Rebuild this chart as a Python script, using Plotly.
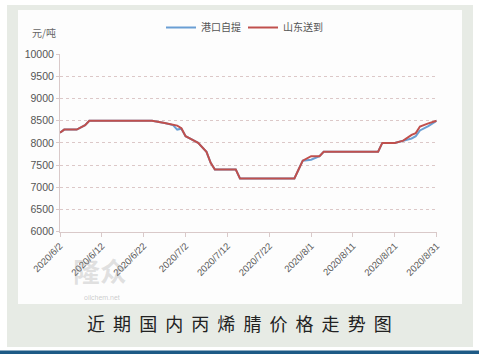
import plotly.graph_objects as go

W, H = 479, 354

dates = ['2020-06-02', '2020-06-03', '2020-06-06', '2020-06-08', '2020-06-09',
         '2020-06-24', '2020-06-27', '2020-06-29', '2020-06-30', '2020-07-01',
         '2020-07-02', '2020-07-03', '2020-07-05', '2020-07-07', '2020-07-08',
         '2020-07-09', '2020-07-14', '2020-07-15', '2020-07-28', '2020-07-29',
         '2020-07-30', '2020-08-01', '2020-08-03', '2020-08-04', '2020-08-17',
         '2020-08-18', '2020-08-21', '2020-08-23', '2020-08-25', '2020-08-26',
         '2020-08-27', '2020-08-29', '2020-08-31']

shandong = [8230, 8300, 8300, 8400, 8500,
            8500, 8450, 8400, 8390, 8330,
            8150, 8100, 8000, 7800, 7550,
            7400, 7400, 7200, 7200, 7400,
            7600, 7700, 7700, 7800, 7800,
            8000, 8000, 8050, 8180, 8220,
            8370, 8440, 8500]

gangkou = [8230, 8300, 8300, 8400, 8500,
           8500, 8450, 8400, 8300, 8320,
           8150, 8100, 8000, 7800, 7550,
           7400, 7400, 7200, 7200, 7400,
           7600, 7620, 7700, 7800, 7800,
           8000, 8000, 8050, 8100, 8150,
           8280, 8380, 8500]

tick_dates = ['2020-06-02', '2020-06-12', '2020-06-22', '2020-07-02', '2020-07-12',
              '2020-07-22', '2020-08-01', '2020-08-11', '2020-08-21', '2020-08-31']
tick_text = ['2020/6/2', '2020/6/12', '2020/6/22', '2020/7/2', '2020/7/12',
             '2020/7/22', '2020/8/1', '2020/8/11', '2020/8/21', '2020/8/31']
y_ticks = [6000, 6500, 7000, 7500, 8000, 8500, 9000, 9500, 10000]

names = ['港口自提', '山东送到']
colors = ['#6a9fd4', '#c0504d']


def px(x):
    return x / W


def py(y):
    return 1 - y / H


fig = go.Figure()
fig.add_trace(go.Scatter(x=dates, y=gangkou, mode='lines', name=names[0],
                         line=dict(color=colors[0], width=2)))
fig.add_trace(go.Scatter(x=dates, y=shandong, mode='lines', name=names[1],
                         line=dict(color=colors[1], width=2)))

shapes = [
    dict(type='rect', xref='paper', yref='paper', x0=px(7), x1=px(473), y0=py(347), y1=py(5),
         fillcolor='#e7ebe5', line=dict(width=0), layer='below'),
    dict(type='rect', xref='paper', yref='paper', x0=px(18), x1=px(462), y0=py(304), y1=py(10),
         fillcolor='#fdfdfd', line=dict(width=0), layer='below'),
    dict(type='rect', xref='paper', yref='paper', x0=0, x1=1, y0=0, y1=py(350.5),
         fillcolor='#1d5a86', line=dict(width=0), layer='below'),
]


def ann(text, x, y, size, color, family='Noto Sans CJK SC'):
    return dict(text=text, xref='paper', yref='paper', x=px(x), y=py(y),
                xanchor='center', yanchor='middle', showarrow=False,
                font=dict(family=family, size=size, color=color))


annotations = [
    ann('元/吨', 43.5, 32, 10, '#666666'),
    ann('近  期  国  内  丙  烯  腈  价  格  走  势  图', 239, 323, 18, '#222222'),
    ann('<b>隆众</b>', 100, 270, 27, 'rgba(150,150,150,0.28)'),
    ann('oilchem.net', 102, 297, 7, 'rgba(140,140,140,0.45)', 'Liberation Sans'),
]

fig.update_layout(
    width=W, height=H,
    margin=dict(l=0, r=0, t=0, b=0, autoexpand=False),
    paper_bgcolor='#ffffff', plot_bgcolor='rgba(0,0,0,0)',
    shapes=shapes, annotations=annotations,
    showlegend=True,
    legend=dict(orientation='h', x=px(161), y=py(13), xanchor='left', yanchor='top',
                font=dict(family='Noto Sans CJK SC', size=10, color='#555555'),
                bgcolor='rgba(0,0,0,0)', itemwidth=30, tracegroupgap=0,
                entrywidth=37, entrywidthmode='pixels'),
    xaxis=dict(type='date', domain=[px(60), px(436.7)], automargin=False,
               range=['2020-06-02', '2020-08-31'],
               tickvals=tick_dates, ticktext=tick_text, tickangle=-45,
               tickfont=dict(family='Liberation Sans', size=9.5, color='#595959'),
               showgrid=False, zeroline=False,
               showline=True, linecolor='#d9c9c9', linewidth=1,
               ticks='outside', ticklen=4, tickcolor='#d9c9c9'),
    yaxis=dict(domain=[py(231.7), py(54.1)], range=[6000, 10000], automargin=False,
               tickvals=y_ticks, ticktext=[str(v) for v in y_ticks],
               tickfont=dict(family='Liberation Sans', size=10.5, color='#555555'),
               showgrid=True, gridcolor='#dcc8c8', griddash='dot', gridwidth=1,
               zeroline=False, showline=True, linecolor='#d9c9c9', linewidth=1,
               ticks='outside', ticklen=3, tickcolor='#d9c9c9'),
)

fig.write_html('out.html')
